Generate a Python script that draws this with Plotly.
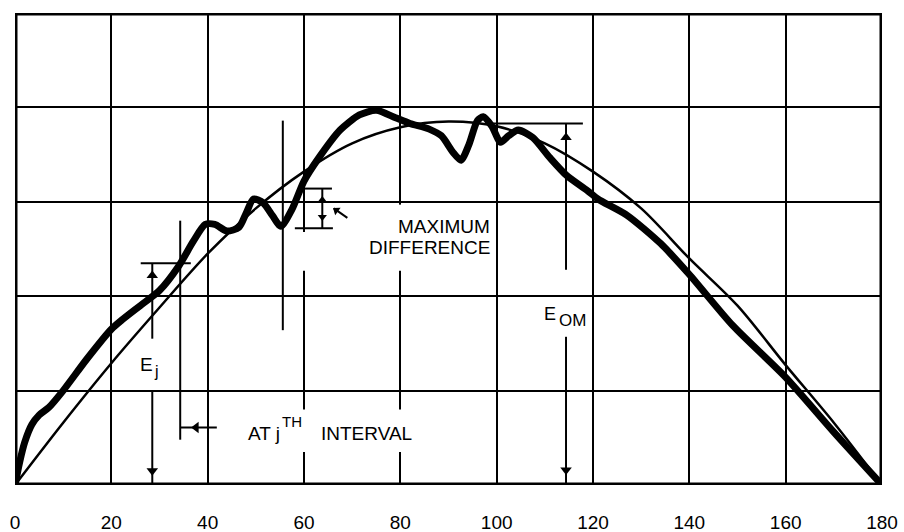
import plotly.graph_objects as go

# ---------------- data ----------------
angle_ticks = [0, 20, 40, 60, 80, 100, 120, 140, 160, 180]
tick_labels = ["0", "20", "40", "60", "80", "100", "120", "140", "160", "180"]

# smooth reference curve (thin)
ref_x = [0, 10, 20, 30, 40, 50, 60, 70, 80, 90, 100, 110, 120, 130, 140, 150, 160, 170, 180]
ref_y = [0, 0.66, 1.29, 1.88, 2.45, 2.93, 3.32, 3.62, 3.79, 3.85, 3.80, 3.62, 3.32, 2.93, 2.40, 1.90, 1.27, 0.66, 0]

# measured curve (thick)
meas_x = [0, 1, 2, 3.5, 5, 7, 10, 15, 20, 22, 26, 30, 34, 37, 39.5, 41.5, 44, 46.5, 48, 49.5,
          51.5, 53.5, 55.2, 57.5, 60, 63, 67.5, 71.5, 75, 79, 82, 86, 88.5, 91, 92.6, 94.2,
          96, 97.2, 99, 100.8, 102.5, 104.5, 107.5, 111, 114.5, 118.8, 121, 127, 134, 140,
          149, 160, 170, 180]
meas_y = [0, 0.25, 0.45, 0.64, 0.74, 0.82, 1.0, 1.34, 1.65, 1.74, 1.90, 2.06, 2.32, 2.58, 2.76, 2.76,
          2.69, 2.73, 2.88, 3.03, 2.99, 2.85, 2.74, 2.92, 3.22, 3.46, 3.76, 3.92, 3.97, 3.89, 3.83,
          3.77, 3.70, 3.52, 3.44, 3.60, 3.86, 3.90, 3.80, 3.63, 3.70, 3.76, 3.68, 3.47, 3.28, 3.12,
          3.03, 2.86, 2.56, 2.23, 1.69, 1.14, 0.56, 0]

# annotation geometry (data units)
ej_x = 28.5
ej_cap_x = [26.1, 36.5]
ej_cap_y = 2.35
ej_upper_y = [1.55, 2.35]
ej_lower_y = [0.0, 1.0]
ej_heads_y = [2.22, 0.15]

interval_x = 34.3
interval_y = [0.48, 2.80]
interval_arrow_x = [34.3, 41.9]
interval_arrow_y = 0.61
interval_head_x = 37.6

marker_x = 55.6
marker_y = [1.64, 3.86]

maxdiff_x = 63.8
maxdiff_y = [2.72, 3.14]
maxdiff_top_cap = [60.2, 65.8]
maxdiff_bot_cap = [58.1, 66.0]
maxdiff_heads_y = [3.02, 2.84]
pointer_x = [66.2, 69.0]
pointer_y = [2.93, 2.83]

eom_x = 114.4
eom_cap_x = [99.2, 117.9]
eom_cap_y = 3.83
eom_upper_y = [2.28, 3.83]
eom_lower_y = [0.0, 1.57]
eom_heads_y = [3.68, 0.16]

# white gaps in the grid behind labels: (x0, x1, y0, y1)
grid_gaps = [(58.6, 97.0, 2.27, 2.68), (77.5, 82.5, 2.68, 2.97), (46.0, 86.0, 0.35, 0.80)]

FONT = "Liberation Sans, Arial, sans-serif"

fig = go.Figure()

fig.add_trace(go.Scatter(x=ref_x, y=ref_y, mode="lines",
                         line=dict(color="black", width=2.5, shape="spline", smoothing=0.9), hoverinfo="skip"))
fig.add_trace(go.Scatter(x=meas_x, y=meas_y, mode="lines",
                         line=dict(color="black", width=7, shape="spline", smoothing=0.7), hoverinfo="skip"))

thin = dict(color="black", width=2)


def seg(xs, ys):
    fig.add_trace(go.Scatter(x=xs, y=ys, mode="lines", line=thin, hoverinfo="skip"))


def heads(xs, ys, symbols, angles=None, size=10):
    fig.add_trace(go.Scatter(x=xs, y=ys, mode="markers", hoverinfo="skip",
                             marker=dict(symbol=symbols, size=size, color="black",
                                         angle=angles if angles is not None else 0,
                                         line=dict(width=0))))


# E_j
seg(ej_cap_x, [ej_cap_y, ej_cap_y])
seg([ej_x, ej_x], ej_upper_y)
seg([ej_x, ej_x], ej_lower_y)
heads([ej_x, ej_x], ej_heads_y, ["triangle-up", "triangle-down"])

# j-th interval
seg([interval_x, interval_x], interval_y)
seg(interval_arrow_x, [interval_arrow_y, interval_arrow_y])
heads([interval_head_x], [interval_arrow_y], ["triangle-left"])

# sample marker line
seg([marker_x, marker_x], marker_y)

# maximum difference bracket
seg(maxdiff_top_cap, [maxdiff_y[1], maxdiff_y[1]])
seg(maxdiff_bot_cap, [maxdiff_y[0], maxdiff_y[0]])
seg([maxdiff_x, maxdiff_x], maxdiff_y)
heads([maxdiff_x, maxdiff_x], maxdiff_heads_y, ["triangle-up", "triangle-down"], size=8)
seg(pointer_x, pointer_y)
heads([pointer_x[0] + 0.5], [pointer_y[0] - 0.02], ["triangle-left"], angles=[36], size=8)

# E_OM
seg(eom_cap_x, [eom_cap_y, eom_cap_y])
seg([eom_x, eom_x], eom_upper_y)
seg([eom_x, eom_x], eom_lower_y)
heads([eom_x, eom_x], eom_heads_y, ["triangle-up", "triangle-down"])

annotations = []


def label(text, x, y, size=19, xanchor="center"):
    annotations.append(dict(x=x, y=y, xref="x", yref="y", text=text, showarrow=False,
                            xanchor=xanchor, yanchor="middle",
                            font=dict(family=FONT, size=size, color="black")))


label("MAXIMUM", 99.0, 2.74, xanchor="right")
label("DIFFERENCE", 99.0, 2.52, xanchor="right")
label("AT j", 48.0, 0.55, xanchor="left")
label("TH", 55.0, 0.67, size=15, xanchor="left")
label("INTERVAL", 63.2, 0.55, xanchor="left")
label("E", 27.3, 1.28, size=19)
label("j", 29.3, 1.20, size=16)
label("E", 111.1, 1.81, size=18)
label("OM", 115.8, 1.74, size=17)

shapes = []
for (x0, x1, y0, y1) in grid_gaps:
    shapes.append(dict(type="rect", xref="x", yref="y", x0=x0, x1=x1, y0=y0, y1=y1,
                       fillcolor="white", line=dict(width=0), layer="between"))
shapes.append(dict(type="rect", xref="x", yref="y", x0=0, x1=180, y0=0, y1=5,
                   line=dict(color="black", width=5), fillcolor="rgba(0,0,0,0)", layer="above"))

fig.update_layout(
    width=904, height=532,
    margin=dict(l=15, r=22, t=13, b=47),
    paper_bgcolor="white", plot_bgcolor="white",
    showlegend=False,
    annotations=annotations,
    shapes=shapes,
    xaxis=dict(range=[0, 180], tickvals=angle_ticks, ticktext=tick_labels, showgrid=True,
               gridcolor="black", gridwidth=2, zeroline=False, showline=False, ticks="",
               ticklabelstandoff=24, automargin=False,
               tickfont=dict(family=FONT, size=19, color="black"), fixedrange=True),
    yaxis=dict(range=[0, 5], dtick=1, showgrid=True, gridcolor="black", gridwidth=2, zeroline=False,
               showticklabels=False, showline=False, ticks="", automargin=False, fixedrange=True),
)

fig.write_html("out.html", config={"displayModeBar": False},
               post_script="document.body.style.margin='0';document.body.style.overflow='hidden';")
